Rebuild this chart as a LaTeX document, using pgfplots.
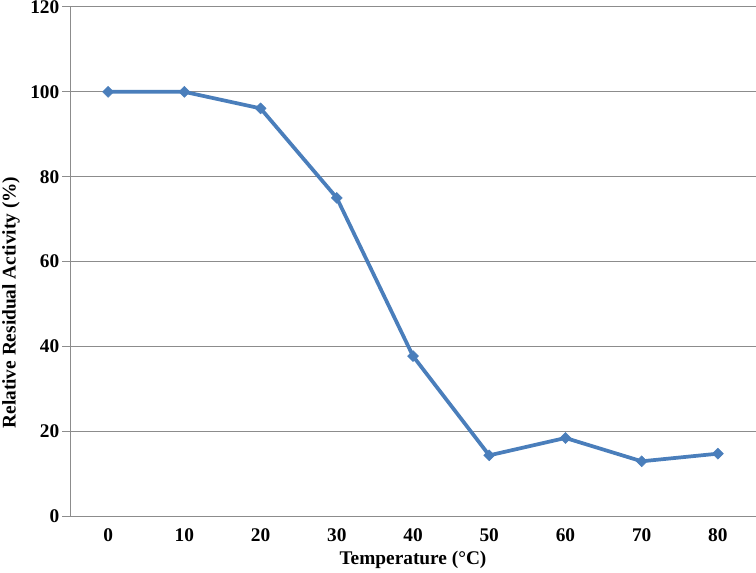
\documentclass[border=0pt]{standalone}
\usepackage{fontspec}
\setmainfont{Liberation Serif}
\usepackage{pgfplots}
\pgfplotsset{compat=1.18}
\definecolor{lineblue}{HTML}{4A7EBB}
\definecolor{gridgray}{HTML}{8C8C8C}

\begin{document}
\begin{tikzpicture}
\begin{axis}[
    name=ax,
    scale only axis,
    width=514.5pt, height=381.75pt,
    xmin=-0.5, xmax=8.5,
    ymin=0, ymax=120,
    xtick={0,...,8},
    xticklabels={0,10,20,30,40,50,60,70,80},
    ytick={0,20,...,120},
    axis x line*=bottom,
    axis y line*=left,
    axis line style={gridgray, line width=0.75pt},
    ymajorgrids,
    grid style={gridgray, line width=0.75pt},
    tick align=outside,
    major tick length=6pt,
    xtick style={draw=none},
    ytick style={gridgray, line width=0.75pt},
    /pgf/number format/assume math mode=true,
    ticklabel style={font=\fontsize{14.5}{17}\selectfont\bfseries},
    yticklabel style={xshift=1.5pt},
    label style={font=\fontsize{14.5}{17}\selectfont\bfseries},
    xlabel={Temperature (°C)},
    ylabel={Relative Residual Activity (\%)},
    xlabel style={at={(rel axis cs:0.5,0)}, anchor=center, yshift=-33pt},
    ylabel style={at={(rel axis cs:0,0.5)}, anchor=center, yshift=44.25pt, xshift=-30.75pt},
    clip=false,
]
% residual activity after incubation at each temperature
\addplot[lineblue, line width=2.8pt, mark=square*, mark size=2.9pt,
    mark options={fill=lineblue, draw=lineblue, line width=0.4pt, rotate=45}] coordinates {
    (0,100.0)
    (1,100.0)
    (2,96.1)
    (3,75.0)
    (4,37.7)
    (5,14.3)
    (6,18.4)
    (7,12.9)
    (8,14.7)
};
\end{axis}
\pgfresetboundingbox
\useasboundingbox ([xshift=-52.5pt,yshift=-42pt]ax.south west) rectangle ([yshift=5.25pt]ax.north east);
\end{tikzpicture}
\end{document}
